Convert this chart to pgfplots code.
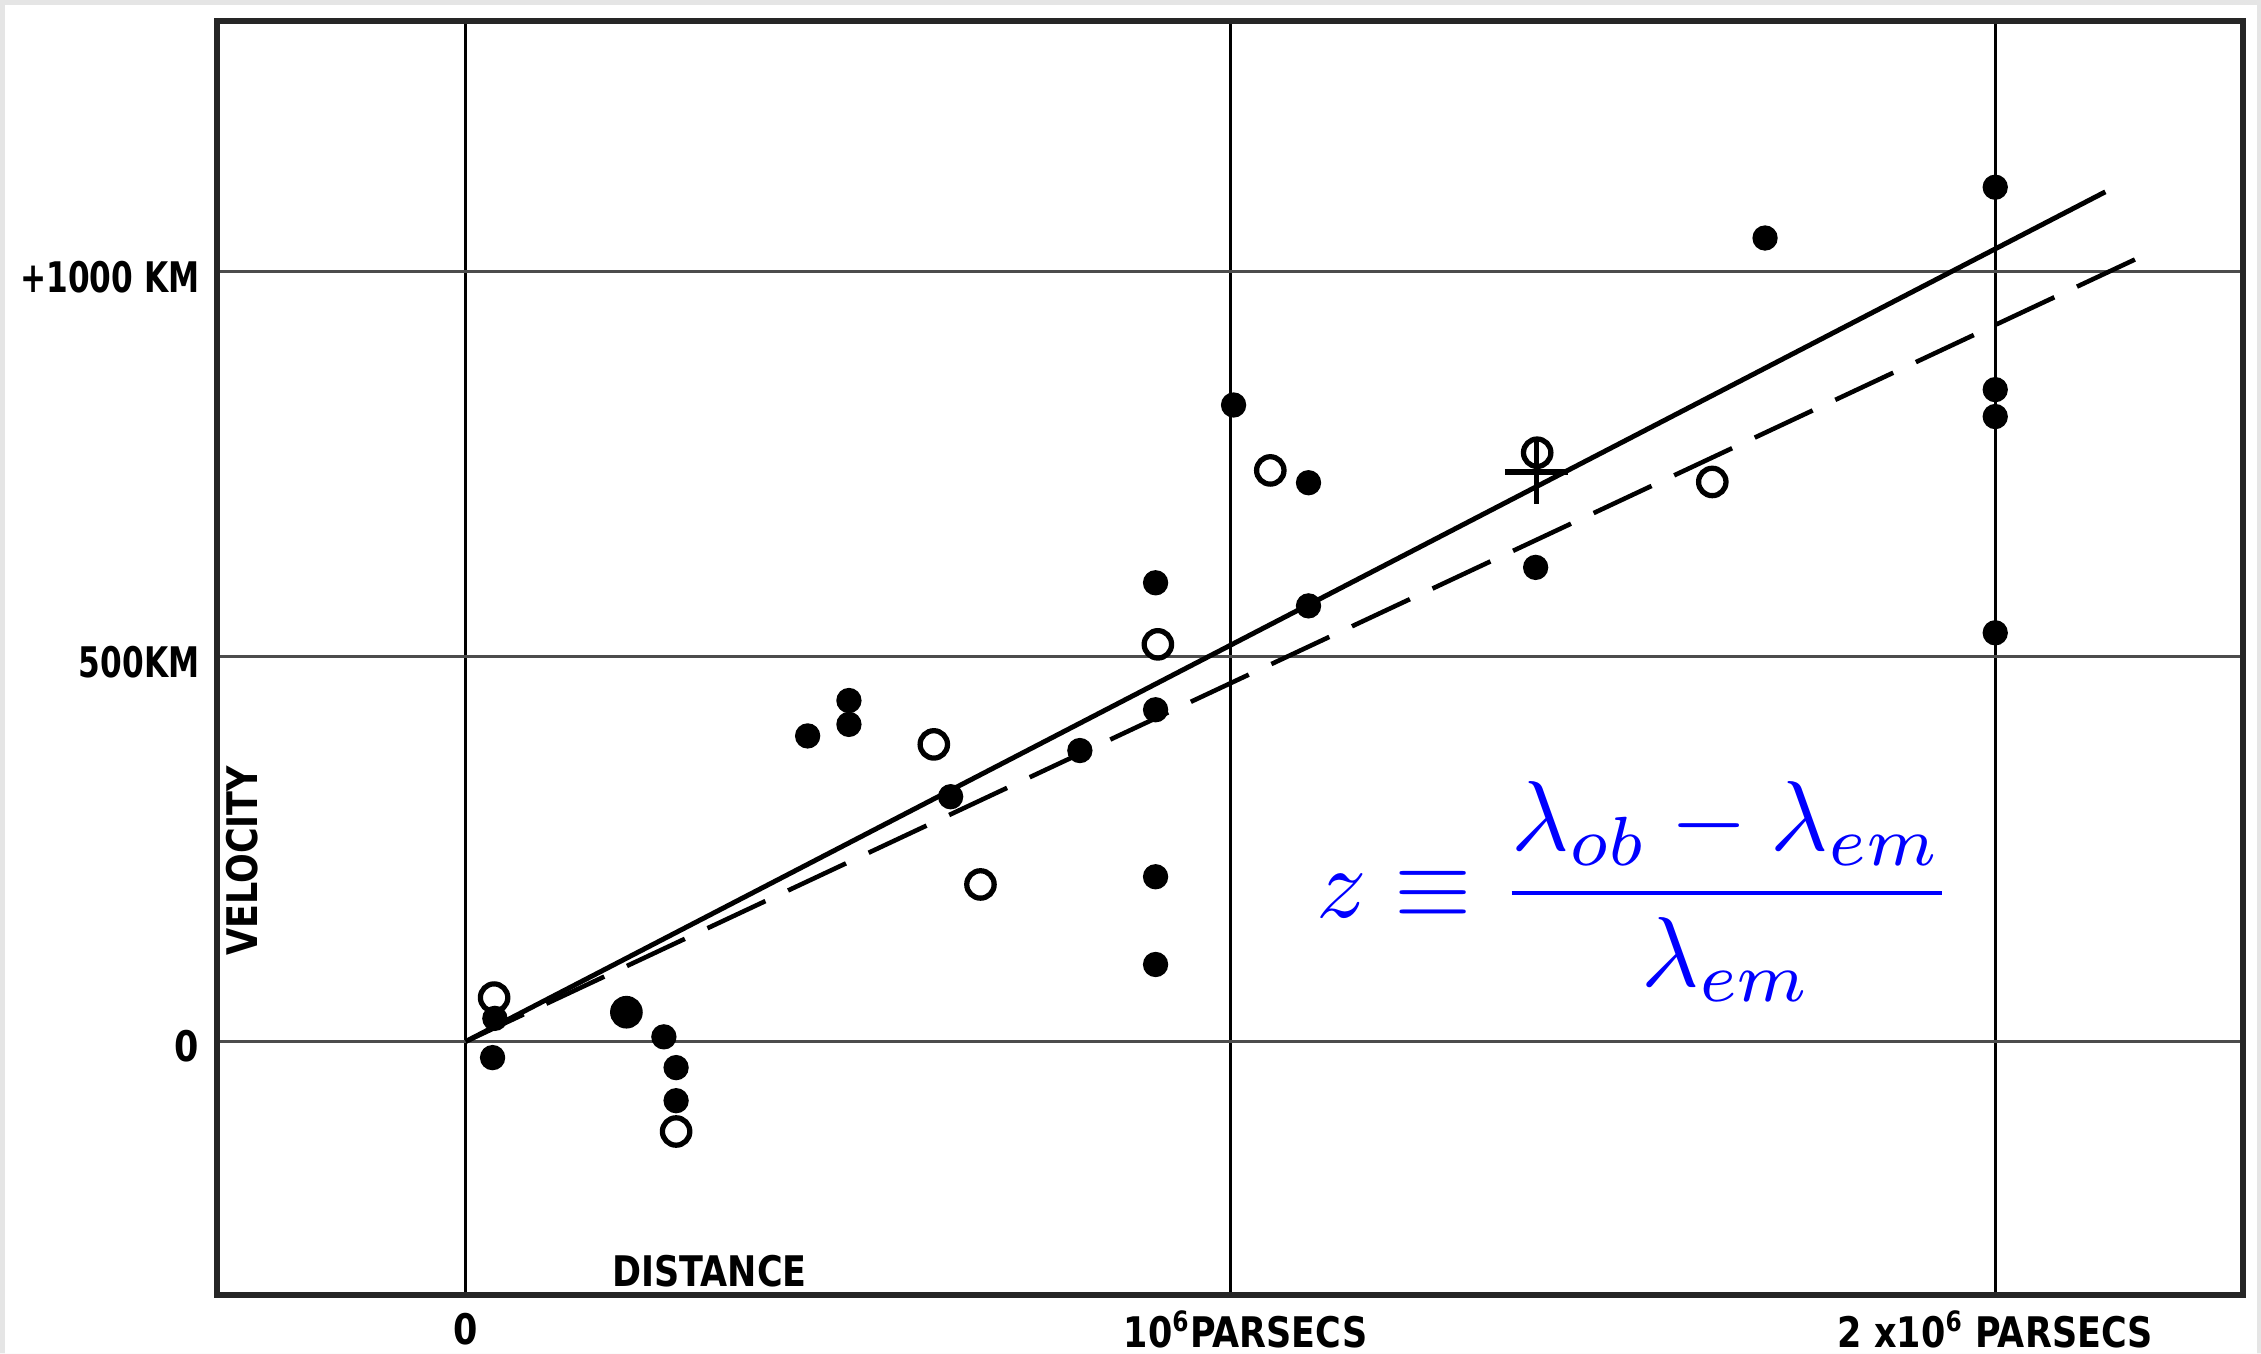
\documentclass[border=0pt]{standalone}
\usepackage{pgfplots}
\pgfplotsset{compat=1.18}
\usepackage{graphicx}
\usepackage{fontspec}
\newfontfamily\hub{DejaVu Sans}
\newcommand\lab[1]{\scalebox{0.83}[1]{\hub\bfseries\fontsize{12}{14}\selectfont #1}}
\newcommand\labn[1]{\scalebox{0.74}[1]{\hub\bfseries\fontsize{12}{14}\selectfont #1}}
\pgfplotstableread{
x y
0.038 30
0.035 -21
0.210 38
0.259 6
0.275 -34
0.275 -77
0.447 397
0.501 443
0.501 412
0.634 318
0.803 378
0.902 596
0.902 431
0.902 214
0.902 100
1.004 827
1.102 726
1.102 566
1.399 616
1.699 1044
2.000 1110
2.000 847
2.000 812
2.000 531
}\filled
\pgfplotstableread{
x y
0.037 57
0.210 38
0.275 -117
0.612 386
0.673 204
0.905 516
1.052 742
1.401 765
1.630 727
}\open
\begin{document}
\begin{tikzpicture}
\begin{axis}[
 width=202.7mm, height=127.5mm, scale only axis,
 xmin=-0.3255, xmax=2.324, ymin=-330, ymax=1326,
 axis line style={line width=1.7pt, black!85},
 xtick={0,1,2}, ytick={0,500,1000},
 xticklabels={\lab{0}, \hspace*{3mm}\lab{10\textsuperscript{6}PARSECS}, \lab{2 x10\textsuperscript{6} PARSECS}},
 yticklabels={\lab{0}, \labn{500KM}, \labn{+1000 KM}},
 major tick length=0pt,
 xticklabel style={anchor=center, yshift=-3.4mm, inner sep=0pt},
 yticklabel style={anchor=east, xshift=-1.7mm, yshift=-0.5mm, inner sep=0pt},
 grid=major,
 major x grid style={line width=0.85pt, black},
 major y grid style={line width=0.9pt, black!70},
 xlabel={\lab{DISTANCE}}, xlabel style={at={(0.2432,0.0188)}, anchor=center, inner sep=0pt},
 ylabel={\lab{VELOCITY}}, ylabel style={at={(0.0123,0.341)}, anchor=center, inner sep=0pt},
 clip=false,
]
\addplot[line width=1.4pt] coordinates {(0,0) (2.144,1104)};
\addplot[line width=1.3pt, dash pattern=on 6.4mm off 2.5mm] coordinates {(0,0) (2.204,1026)};
\addplot[only marks, mark=*, mark size=3.4pt, black] table[x=x,y=y] {\filled};
\addplot[only marks, mark=o, mark size=3.9pt, mark options={line width=1.5pt}, black] table[x=x,y=y] {\open};
\addplot[only marks, mark=+, mark size=9pt, mark options={line width=1.6pt}, black] coordinates {(1.40,740)};
\node[blue, anchor=center, inner sep=0pt] at (axis cs:1.529,195) {\scalebox{2.83}{$\displaystyle z\equiv\frac{\lambda_{ob}-\lambda_{em}}{\lambda_{em}}$}};
\coordinate (SW) at (rel axis cs:0,0);
\coordinate (NE) at (rel axis cs:1,1);
\end{axis}
\pgfresetboundingbox
\path ([shift={(-21.7mm,-5.8mm)}]SW) rectangle ([shift={(1.8mm,2.1mm)}]NE);
\fill[gray!20, even odd rule] ([shift={(-21.7mm,-5.8mm)}]SW) rectangle ([shift={(1.8mm,2.1mm)}]NE)
  ([shift={(-21.2mm,-5.8mm)}]SW) rectangle ([shift={(1.4mm,1.6mm)}]NE);
\end{tikzpicture}
\end{document}
